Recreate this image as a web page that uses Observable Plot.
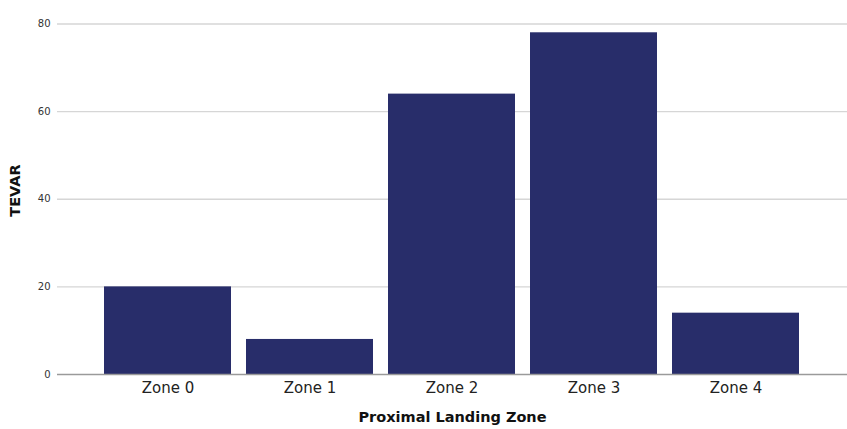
<!DOCTYPE html>
<html>
<head>
<meta charset="utf-8">
<script src="https://cdn.jsdelivr.net/npm/d3@7"></script>
<script src="https://cdn.jsdelivr.net/npm/@observablehq/plot@0.6"></script>
<style>
  html, body { margin: 0; padding: 0; background: #fff; }
  svg { display: block; }
</style>
</head>
<body>
<div id="chart"></div>
<script>
const zones = ["Zone 0", "Zone 1", "Zone 2", "Zone 3", "Zone 4"];
const tevar = [20, 8, 64, 78, 14];
const yTicks = [0, 20, 40, 60, 80];

const data = zones.map((z, i) => ({zone: z, value: tevar[i]}));
const font = "DejaVu Sans, sans-serif";

const chart = Plot.plot({
  width: 847,
  height: 429,
  marginLeft: 57,
  marginRight: 0,
  marginTop: 6,
  marginBottom: 55,
  style: {fontFamily: font, background: "#fff"},
  x: {domain: zones, paddingInner: 0.105, paddingOuter: 0.32, label: null},
  y: {domain: [0, 84], label: null},
  marks: [
    Plot.ruleY(yTicks.filter(d => d > 0), {stroke: "#d6d6d6", strokeWidth: 1.3}),
    Plot.barY(data, {x: "zone", y: "value", fill: "#282d6a"}),
    Plot.ruleY([0], {stroke: "#9a9a9a", strokeWidth: 1.3}),
    Plot.ruleX([0], {frameAnchor: "left", y1: 0, y2: 84, stroke: "#9a9a9a", strokeWidth: 1.3}),
    Plot.axisY({ticks: yTicks, tickSize: 0, tickPadding: 7, fontSize: 10, fill: "#333", label: null}),
    Plot.axisX({tickSize: 0, tickPadding: 8, fontSize: 15, fill: "#222", label: null}),
    Plot.text(["TEVAR"], {frameAnchor: "left", dx: -42, rotate: -90, textAnchor: "middle", lineAnchor: "middle", fontSize: 14.5, fontWeight: "bold", fill: "#111"}),
    Plot.text(["Proximal Landing Zone"], {frameAnchor: "bottom", dy: 43, textAnchor: "middle", lineAnchor: "middle", fontSize: 14.5, fontWeight: "bold", fill: "#111"})
  ]
});
document.getElementById("chart").appendChild(chart);
</script>
</body>
</html>
